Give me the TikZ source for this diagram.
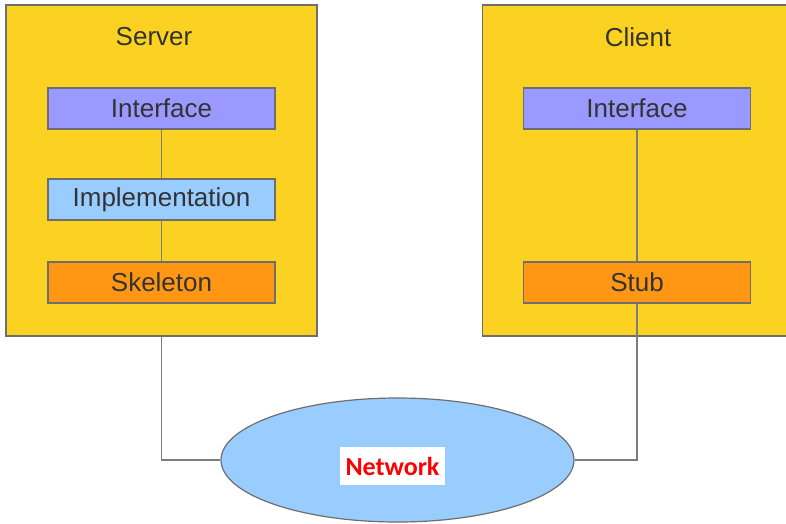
\documentclass[tikz,border=0pt]{standalone}
\usepackage{fontspec}
\setmainfont{Liberation Sans}
\newfontfamily\netfont{Carlito}
\usetikzlibrary{positioning,shapes.geometric}
\definecolor{hostfill}{RGB}{252,210,34}
\definecolor{ifacefill}{RGB}{153,153,255}
\definecolor{implfill}{RGB}{153,204,255}
\definecolor{stubfill}{RGB}{255,150,20}
\definecolor{edgegray}{RGB}{110,110,110}
\tikzset{
host/.style = { draw = edgegray, line width = 1.2pt, fill = hostfill, minimum width = 311pt, minimum height = 331pt, inner sep = 0pt },
part/.style = { draw = edgegray, line width = 1.2pt, minimum width = 227pt, minimum height = 41pt, inner sep = 0pt,
  font = \fontsize{26}{30}\selectfont, text = black!80 },
iface/.style = { part, fill = ifacefill },
impl/.style = { part, fill = implfill },
proxy/.style = { part, fill = stubfill },
title/.style = { font = \fontsize{26}{30}\selectfont, text = black!80 },
link/.style = { draw = edgegray!90, line width = 1.2pt },
cloud/.style = { ellipse, draw = edgegray, line width = 1.2pt, fill = implfill, minimum width = 353pt, minimum height = 124pt, inner sep = 0pt }
}
\begin{document}
\begin{tikzpicture}[x=1pt,y=-1pt]
	\useasboundingbox (0,0) rectangle (786,523);
	\clip (0,0) rectangle (786,523);
	\node [host] (srv) at (161.5,170.5) {};
	\node [host] (cli) at (638,170.5) {};
	\node [title] (srvname) at (154,37) {Server};
	\node [title] (cliname) at (638,37) {Client};
	\node [iface] (sint) at (161.5,108.5) {Interface};
	\node [impl, below = 48.8pt of sint] (simp) {Implementation};
	\node [proxy, below = 40.8pt of simp] (sskel) {Skeleton};
	\node [iface] (cint) at (637,108.5) {Interface};
	\node [proxy] (cstub) at (637,282.5) {Stub};
	\node [cloud] (net) at (397.5,460) {};
	\node [fill = white, minimum width = 105pt, minimum height = 38pt, inner sep = 0pt,
	  text = red, font = \netfont\bfseries\fontsize{26}{30}\selectfont] (netname) at (392.5,466) {Network};
	\draw [link] (sint) -- (simp);
	\draw [link] (simp) -- (sskel);
	\draw [link] (cint) -- (cstub);
	\draw [link] (sskel.south |- srv.south) -- (sskel.south |- net.west) -- (net.west);
	\draw [link] (cstub.south) -- (cstub.south |- net.east) -- (net.east);
\end{tikzpicture}
\end{document}
